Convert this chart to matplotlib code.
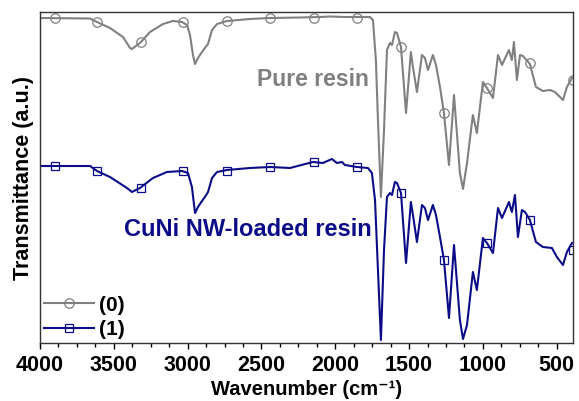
import matplotlib
matplotlib.use("Agg")
import matplotlib.pyplot as plt
from matplotlib.lines import Line2D

plt.rcParams['font.family'] = ['Liberation Sans', 'DejaVu Sans']

# ---- data (transmittance in arbitrary units) ----
wn_pure = [4000, 3661, 3614, 3526, 3438, 3390, 3377, 3316, 3255, 3167, 3099, 3038, 3004,
           2984, 2964, 2950, 2930, 2903, 2883, 2862, 2835, 2801, 2734, 2578, 2442, 2239,
           2104, 2036, 1935, 1765, 1745, 1725, 1711, 1691, 1670, 1650, 1630, 1616, 1596,
           1582, 1555, 1521, 1488, 1474, 1447, 1413, 1393, 1372, 1339, 1318, 1291, 1264,
           1230, 1196, 1156, 1135, 1108, 1068, 1041, 1000, 973, 932, 898, 871, 824, 804,
           790, 770, 749, 729, 682, 641, 594, 546, 512, 492, 458, 431, 397]
t_pure = [325, 324.5, 321, 315, 306, 295, 294, 301, 311, 319, 322, 321, 318,
          308, 288, 279, 285, 291, 295, 299, 313, 319, 322, 324, 325, 325.5,
          326, 326.5, 326, 326, 323, 283, 223, 146, 213, 293, 300, 298, 311,
          310, 296, 230, 291, 276, 251, 288, 285, 273, 288, 278, 256, 230,
          178, 248, 170, 154, 180, 228, 210, 261, 255, 245, 288, 278, 293, 283,
          301, 263, 288, 287, 279, 256, 252, 253, 251, 248, 243, 256, 265]

wn_cuni = [4000, 3661, 3614, 3526, 3411, 3377, 3323, 3235, 3140, 3038, 2998, 2971, 2950,
           2930, 2903, 2883, 2862, 2835, 2801, 2734, 2578, 2442, 2307, 2151, 2084, 2023,
           1989, 1955, 1935, 1853, 1779, 1752, 1731, 1711, 1691, 1670, 1650, 1630, 1616,
           1596, 1582, 1555, 1521, 1488, 1474, 1447, 1413, 1393, 1372, 1339, 1318, 1291,
           1264, 1230, 1196, 1156, 1135, 1108, 1068, 1041, 1000, 973, 932, 898, 871, 824,
           804, 783, 763, 736, 715, 682, 641, 594, 533, 499, 458, 431, 397]
t_cuni = [177, 177, 172, 166, 155, 151, 155, 165, 171, 172, 170, 156, 130,
          136, 142, 146, 151, 165, 171, 173, 175, 176, 175, 181, 180, 184,
          180, 181, 178, 176, 175, 170, 143, 73, 3, 93, 146, 150, 148,
          161, 160, 150, 80, 141, 128, 101, 138, 135, 123, 138, 128, 106,
          83, 25, 98, 23, 4, 18, 71, 53, 105, 100, 90, 135, 125, 141,
          131, 148, 106, 133, 131, 123, 101, 96, 95, 86, 78, 91, 100]

mk_wn = [3898, 3614, 3316, 3032, 2734, 2442, 2144, 1853, 1555, 1264, 973, 682, 390]
mk_pure = [325, 321, 301, 321, 322, 325, 325, 325, 296, 230, 255, 280, 263]
mk_cuni = [177, 172, 155, 172, 172, 176, 181, 176, 150, 83, 100, 123, 93]

series_labels = ["(0)", "(1)"]
x_ticks = [4000, 3500, 3000, 2500, 2000, 1500, 1000, 500]

GRAY = '#808080'
NAVY = '#0c0c88'
LW = 1.5

fig = plt.figure(figsize=(5.79, 4.01), dpi=100)
ax = fig.add_axes([40 / 579, 58 / 401, 533 / 579, 331 / 401])

ax.plot(wn_pure, t_pure, color=GRAY, lw=LW, solid_joinstyle='round')
ax.plot(mk_wn, mk_pure, ls='none', marker='o', ms=6.8, mfc='none', mec=GRAY, mew=0.9)
ax.plot(wn_cuni, t_cuni, color=NAVY, lw=LW, solid_joinstyle='round')
ax.plot(mk_wn, mk_cuni, ls='none', marker='s', ms=6.3, mfc='none', mec=NAVY, mew=0.9)

ax.set_xlim(4000, 390)
ax.set_ylim(0, 331)
ax.set_xticks(x_ticks)
ax.set_xticks(range(3875, 390, -125), minor=True)
ax.set_yticks([])
ax.tick_params(axis='x', which='major', direction='out', length=4, width=1.0,
               labelsize=15.5, pad=4.5)
ax.tick_params(axis='x', which='minor', direction='out', length=3, width=1.0)
for lab in ax.get_xticklabels():
    lab.set_fontweight('bold')
for sp in ax.spines.values():
    sp.set_linewidth(1.0)
    sp.set_color('#333333')

ax.set_xlabel('Wavenumber (cm\u207b\u00b9)', fontsize=14.5, fontweight='bold')
ax.xaxis.set_label_coords(0.5, -0.14)
ax.xaxis.label.set_va('center')
ax.set_ylabel('Transmittance (a.u.)', fontsize=15.5, fontweight='bold', labelpad=4)

ax.text(2152, 263, 'Pure resin', color=GRAY, fontsize=16.5, fontweight='bold',
        ha='center', va='center')
ax.text(2592, 113, 'CuNi NW-loaded resin', color=NAVY, fontsize=17, fontweight='bold',
        ha='center', va='center')

handles = [Line2D([], [], color=GRAY, lw=LW, marker='o', ms=6.8, mfc='none', mew=0.9),
           Line2D([], [], color=NAVY, lw=LW, marker='s', ms=6.3, mfc='none', mew=0.9)]
leg = ax.legend(handles, series_labels, loc='lower left', frameon=False,
                prop={'size': 15, 'weight': 'bold'}, handlelength=2.4,
                handletextpad=0.25, labelspacing=0.25, borderaxespad=0.1,
                borderpad=0.1)

fig.savefig('out.png', dpi=100)
